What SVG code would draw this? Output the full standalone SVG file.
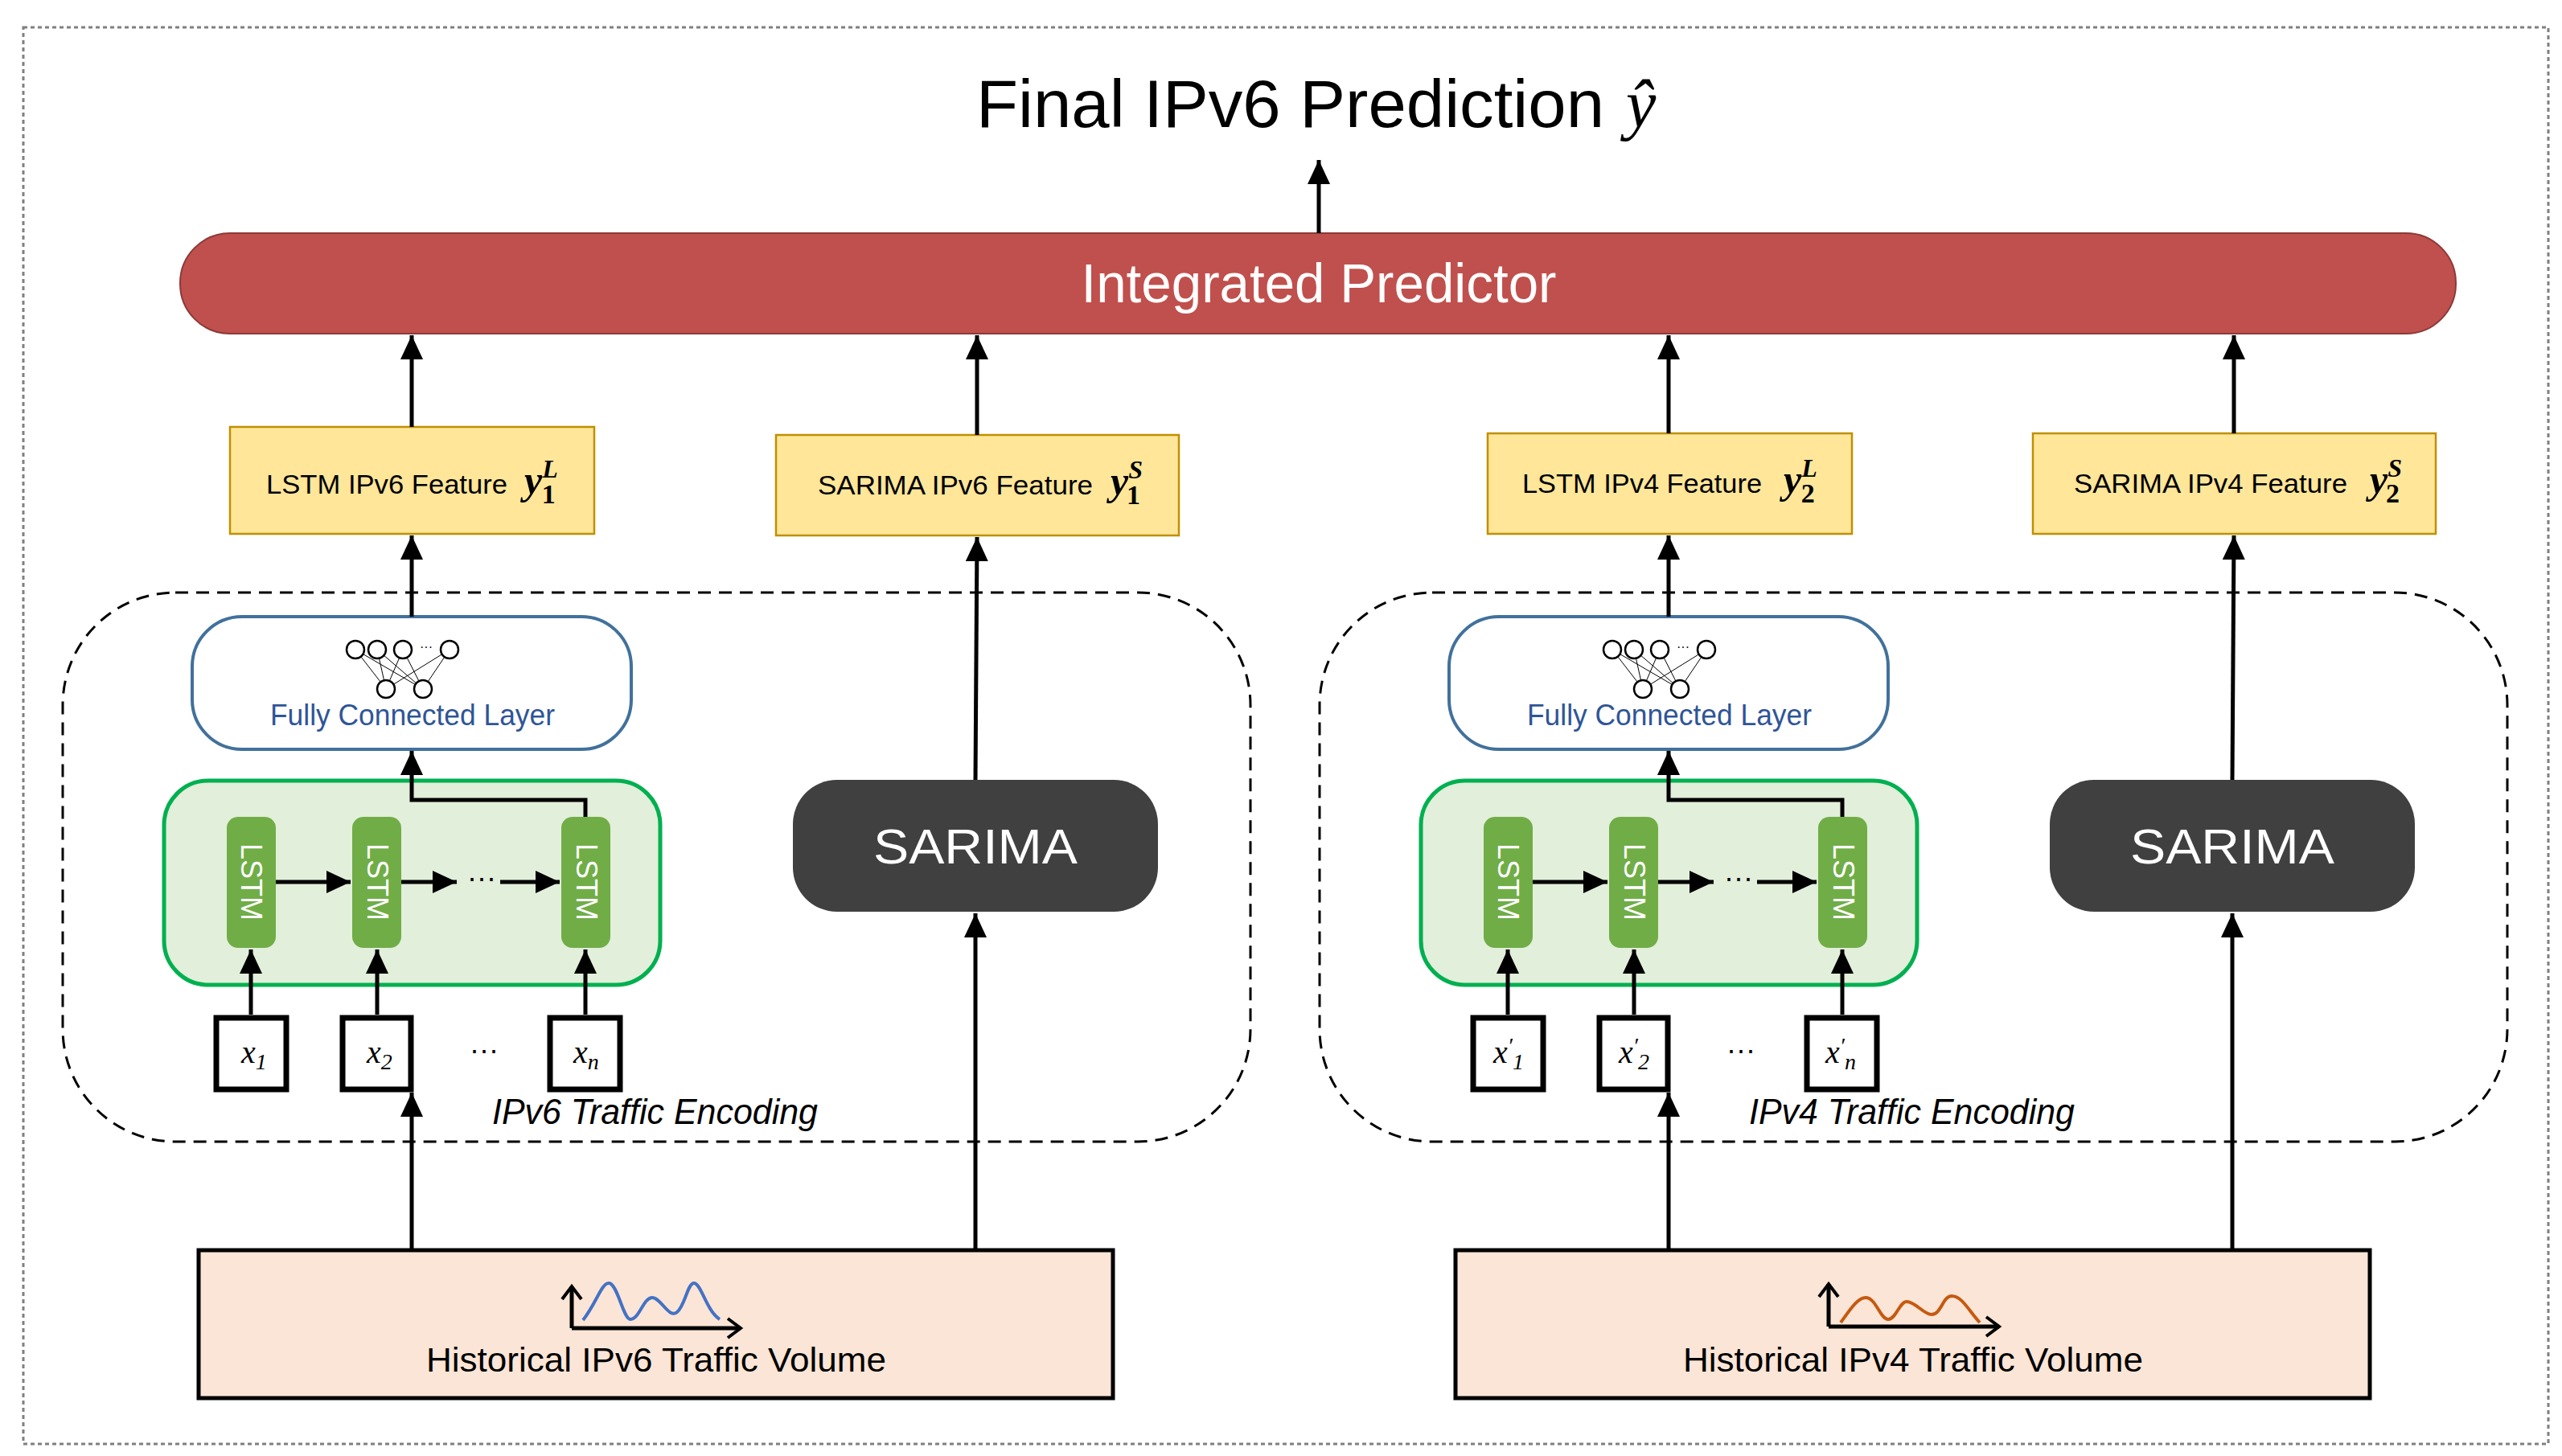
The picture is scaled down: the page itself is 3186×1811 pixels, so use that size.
<svg xmlns="http://www.w3.org/2000/svg" width="3186" height="1811" viewBox="0 0 3186 1811">
<style>
.sans{font-family:"Liberation Sans",Arial,sans-serif}
.serif{font-family:"Liberation Serif","Times New Roman",serif}
.conn{fill:none;stroke:#000;stroke-width:5}
.feat{fill:#FFE699;stroke:#BF9000;stroke-width:2.5}
.enc{fill:none;stroke:#000;stroke-width:3;stroke-dasharray:16 10}
.fc{fill:#fff;stroke:#41719C;stroke-width:4}
.grn{fill:#E2EFDA;stroke:#00B050;stroke-width:5}
.cell{fill:#70AD47}
.xbox{fill:#fff;stroke:#000;stroke-width:7}
.sar{fill:#404040}
.hist{fill:#FBE5D6;stroke:#000;stroke-width:5}
.nn circle{fill:#fff;stroke:#000;stroke-width:2.5}
.nn line{stroke:#000;stroke-width:1}
.celltxt{fill:#fff;font-size:36px}
.ftxt{font-size:34px;fill:#000}
.fy{font-size:50px;font-style:italic;font-weight:bold}
.xl{font-size:40px;font-style:italic}
</style>
<defs>
<marker id="ah" markerUnits="userSpaceOnUse" markerWidth="32" markerHeight="30" refX="30" refY="14" orient="auto">
<path d="M0,0 L30,14 L0,28 z" fill="#000"/>
</marker>
<marker id="oa" markerUnits="userSpaceOnUse" markerWidth="24" markerHeight="30" refX="18" refY="14" orient="auto">
<path d="M2,2 L18,14 L2,26" fill="none" stroke="#000" stroke-width="4"/>
</marker>
</defs>
<rect width="3186" height="1811" fill="#fff"/>
<rect x="29" y="34" width="3140" height="1762" fill="none" stroke="#808080" stroke-width="3" stroke-dasharray="5 4"/>

<g id="title">
<text class="sans" x="1214" y="158" font-size="84" textLength="781" lengthAdjust="spacingAndGlyphs">Final IPv6 Prediction</text>
<text class="serif" x="2022" y="158" font-size="84" font-style="italic">ŷ</text>
</g>

<g id="predictor">
<rect x="224" y="290" width="2830" height="125" rx="62" fill="#C0504D" stroke="#8B3A38" stroke-width="2"/>
<text class="sans" x="1640" y="376" font-size="68" fill="#fff" text-anchor="middle" textLength="591" lengthAdjust="spacingAndGlyphs">Integrated Predictor</text>
</g>

<g id="feat-lstm-v6">
<rect class="feat" x="286" y="531" width="453" height="133"/>
<text class="sans ftxt" x="331" y="614" textLength="300" lengthAdjust="spacingAndGlyphs">LSTM IPv6 Feature</text>
<text class="serif fy" x="652" y="614">y<tspan font-size="32" dy="-20">L</tspan><tspan font-size="34" dx="-20" dy="32" font-style="normal">1</tspan></text>
</g>
<g id="feat-sarima-v6">
<rect class="feat" x="965" y="541" width="501" height="125"/>
<text class="sans ftxt" x="1017" y="615" textLength="342" lengthAdjust="spacingAndGlyphs">SARIMA IPv6 Feature</text>
<text class="serif fy" x="1381" y="615">y<tspan font-size="32" dy="-20">S</tspan><tspan font-size="34" dx="-20" dy="32" font-style="normal">1</tspan></text>
</g>
<g id="feat-lstm-v4">
<rect class="feat" x="1850" y="539" width="453" height="125"/>
<text class="sans ftxt" x="1893" y="613" textLength="298" lengthAdjust="spacingAndGlyphs">LSTM IPv4 Feature</text>
<text class="serif fy" x="2218" y="613">y<tspan font-size="32" dy="-20">L</tspan><tspan font-size="34" dx="-20" dy="32" font-style="normal">2</tspan></text>
</g>
<g id="feat-sarima-v4">
<rect class="feat" x="2528" y="539" width="501" height="125"/>
<text class="sans ftxt" x="2579" y="613" textLength="340" lengthAdjust="spacingAndGlyphs">SARIMA IPv4 Feature</text>
<text class="serif fy" x="2947" y="613">y<tspan font-size="32" dy="-20">S</tspan><tspan font-size="34" dx="-20" dy="32" font-style="normal">2</tspan></text>
</g>

<g id="enc-v6">
<rect class="enc" x="78" y="737" width="1477" height="683" rx="140"/>
<text class="sans" x="612" y="1398" font-size="44" font-style="italic" textLength="405" lengthAdjust="spacingAndGlyphs">IPv6 Traffic Encoding</text>
</g>
<g id="fc-v6">
<rect class="fc" x="239" y="767" width="546" height="165" rx="62"/>
<g class="nn">
<line x1="442" y1="808" x2="480" y2="857"/><line x1="442" y1="808" x2="526" y2="857"/>
<line x1="469" y1="808" x2="480" y2="857"/><line x1="469" y1="808" x2="526" y2="857"/>
<line x1="501" y1="808" x2="480" y2="857"/><line x1="501" y1="808" x2="526" y2="857"/>
<line x1="559" y1="808" x2="480" y2="857"/><line x1="559" y1="808" x2="526" y2="857"/>
<circle cx="442" cy="808" r="11"/><circle cx="469" cy="808" r="11"/><circle cx="501" cy="808" r="11"/><circle cx="559" cy="808" r="11"/>
<circle cx="480" cy="857" r="11"/><circle cx="526" cy="857" r="11"/>
<text class="sans" x="530" y="810" font-size="16" text-anchor="middle">···</text>
</g>
<text class="sans" x="513" y="902" font-size="36" fill="#2F5597" text-anchor="middle" textLength="354" lengthAdjust="spacingAndGlyphs">Fully Connected Layer</text>
</g>
<g id="lstm-v6">
<rect class="grn" x="204" y="971" width="617" height="254" rx="55"/>
<rect class="cell" x="282" y="1016" width="61" height="163" rx="14"/>
<rect class="cell" x="438" y="1016" width="61" height="163" rx="14"/>
<rect class="cell" x="698" y="1016" width="61" height="163" rx="14"/>
<text class="sans celltxt" transform="translate(312,1097) rotate(90)" text-anchor="middle" dy="12">LSTM</text>
<text class="sans celltxt" transform="translate(469,1097) rotate(90)" text-anchor="middle" dy="12">LSTM</text>
<text class="sans celltxt" transform="translate(729,1097) rotate(90)" text-anchor="middle" dy="12">LSTM</text>
<text class="sans" x="599" y="1104" font-size="36" text-anchor="middle">···</text>
</g>
<g id="x-v6">
<rect class="xbox" x="269" y="1266" width="87" height="89"/>
<rect class="xbox" x="426" y="1266" width="85" height="89"/>
<rect class="xbox" x="684" y="1266" width="87" height="89"/>
<text class="serif xl" x="300" y="1322">x<tspan font-size="28" dy="8">1</tspan></text>
<text class="serif xl" x="456" y="1322">x<tspan font-size="28" dy="8">2</tspan></text>
<text class="serif xl" x="713" y="1322">x<tspan font-size="28" dy="8">n</tspan></text>
<text class="sans" x="602" y="1318" font-size="36" text-anchor="middle">···</text>
</g>
<g id="sarima-v6">
<rect class="sar" x="986" y="970" width="454" height="164" rx="55"/>
<text class="sans" x="1213" y="1074" font-size="62" fill="#fff" text-anchor="middle" textLength="254" lengthAdjust="spacingAndGlyphs">SARIMA</text>
</g>
<g id="hist-v6">
<rect class="hist" x="247" y="1555" width="1137" height="184"/>
<path d="M711,1652 V1600" class="conn" stroke-width="4" marker-end="url(#oa)"/>
<path d="M711,1652 H921" class="conn" stroke-width="4" marker-end="url(#oa)"/>
<path d="M725,1642 C742,1620 748,1596 757,1596 C768,1596 775,1641 784,1641 C795,1641 800,1614 811,1614 C822,1614 832,1641 842,1632 C852,1624 855,1596 863,1596 C872,1596 878,1630 895,1641" fill="none" stroke="#4472C4" stroke-width="4"/>
<text class="sans" x="816" y="1706" font-size="42" text-anchor="middle" textLength="572" lengthAdjust="spacingAndGlyphs">Historical IPv6 Traffic Volume</text>
</g>

<g id="enc-v4" transform="translate(1563,0)">
<rect class="enc" x="78" y="737" width="1477" height="683" rx="140"/>
<text class="sans" x="612" y="1398" font-size="44" font-style="italic" textLength="405" lengthAdjust="spacingAndGlyphs">IPv4 Traffic Encoding</text>
</g>
<g id="fc-v4" transform="translate(1563,0)">
<rect class="fc" x="239" y="767" width="546" height="165" rx="62"/>
<g class="nn">
<line x1="442" y1="808" x2="480" y2="857"/><line x1="442" y1="808" x2="526" y2="857"/>
<line x1="469" y1="808" x2="480" y2="857"/><line x1="469" y1="808" x2="526" y2="857"/>
<line x1="501" y1="808" x2="480" y2="857"/><line x1="501" y1="808" x2="526" y2="857"/>
<line x1="559" y1="808" x2="480" y2="857"/><line x1="559" y1="808" x2="526" y2="857"/>
<circle cx="442" cy="808" r="11"/><circle cx="469" cy="808" r="11"/><circle cx="501" cy="808" r="11"/><circle cx="559" cy="808" r="11"/>
<circle cx="480" cy="857" r="11"/><circle cx="526" cy="857" r="11"/>
<text class="sans" x="530" y="810" font-size="16" text-anchor="middle">···</text>
</g>
<text class="sans" x="513" y="902" font-size="36" fill="#2F5597" text-anchor="middle" textLength="354" lengthAdjust="spacingAndGlyphs">Fully Connected Layer</text>
</g>
<g id="lstm-v4" transform="translate(1563,0)">
<rect class="grn" x="204" y="971" width="617" height="254" rx="55"/>
<rect class="cell" x="282" y="1016" width="61" height="163" rx="14"/>
<rect class="cell" x="438" y="1016" width="61" height="163" rx="14"/>
<rect class="cell" x="698" y="1016" width="61" height="163" rx="14"/>
<text class="sans celltxt" transform="translate(312,1097) rotate(90)" text-anchor="middle" dy="12">LSTM</text>
<text class="sans celltxt" transform="translate(469,1097) rotate(90)" text-anchor="middle" dy="12">LSTM</text>
<text class="sans celltxt" transform="translate(729,1097) rotate(90)" text-anchor="middle" dy="12">LSTM</text>
<text class="sans" x="599" y="1104" font-size="36" text-anchor="middle">···</text>
</g>
<g id="x-v4" transform="translate(1563,0)">
<rect class="xbox" x="269" y="1266" width="87" height="89"/>
<rect class="xbox" x="426" y="1266" width="85" height="89"/>
<rect class="xbox" x="684" y="1266" width="87" height="89"/>
<text class="serif xl" x="294" y="1322">x<tspan font-size="28" dy="-12">′</tspan><tspan font-size="28" dy="20">1</tspan></text>
<text class="serif xl" x="450" y="1322">x<tspan font-size="28" dy="-12">′</tspan><tspan font-size="28" dy="20">2</tspan></text>
<text class="serif xl" x="707" y="1322">x<tspan font-size="28" dy="-12">′</tspan><tspan font-size="28" dy="20">n</tspan></text>
<text class="sans" x="602" y="1318" font-size="36" text-anchor="middle">···</text>
</g>
<g id="sarima-v4" transform="translate(1563,0)">
<rect class="sar" x="986" y="970" width="454" height="164" rx="55"/>
<text class="sans" x="1213" y="1074" font-size="62" fill="#fff" text-anchor="middle" textLength="254" lengthAdjust="spacingAndGlyphs">SARIMA</text>
</g>
<g id="hist-v4">
<rect class="hist" x="1810" y="1555" width="1137" height="184"/>
<path d="M2274,1650 V1597" class="conn" stroke-width="4" marker-end="url(#oa)"/>
<path d="M2274,1650 H2486" class="conn" stroke-width="4" marker-end="url(#oa)"/>
<path d="M2289,1645 C2300,1630 2310,1614 2320,1614 C2333,1614 2338,1641 2348,1641 C2358,1641 2362,1619 2371,1619 C2382,1619 2392,1635 2402,1635 C2414,1635 2416,1612 2427,1612 C2440,1612 2448,1630 2462,1645" fill="none" stroke="#C55A11" stroke-width="4"/>
<text class="sans" x="2379" y="1706" font-size="42" text-anchor="middle" textLength="572" lengthAdjust="spacingAndGlyphs">Historical IPv4 Traffic Volume</text>
</g>

<g id="connectors">
<path class="conn" d="M1640,290 V199" marker-end="url(#ah)"/>
<path class="conn" d="M512,531 V417" marker-end="url(#ah)"/>
<path class="conn" d="M1215,541 V417" marker-end="url(#ah)"/>
<path class="conn" d="M2075,539 V417" marker-end="url(#ah)"/>
<path class="conn" d="M2778,539 V417" marker-end="url(#ah)"/>
<path class="conn" d="M512,767 V666" marker-end="url(#ah)"/>
<path class="conn" d="M1213,970 L1215,668" marker-end="url(#ah)"/>
<path class="conn" d="M2075,767 V666" marker-end="url(#ah)"/>
<path class="conn" d="M2776,970 L2778,666" marker-end="url(#ah)"/>
<path class="conn" d="M728,1016 V995 H512 V934" marker-end="url(#ah)"/>
<path class="conn" d="M2291,1016 V995 H2075 V934" marker-end="url(#ah)"/>
<path class="conn" d="M343,1097 H436" marker-end="url(#ah)"/>
<path class="conn" d="M499,1097 H568" marker-end="url(#ah)"/>
<path class="conn" d="M622,1097 H696" marker-end="url(#ah)"/>
<path class="conn" d="M1906,1097 H1999" marker-end="url(#ah)"/>
<path class="conn" d="M2062,1097 H2131" marker-end="url(#ah)"/>
<path class="conn" d="M2185,1097 H2259" marker-end="url(#ah)"/>
<path class="conn" d="M312,1262 V1181" marker-end="url(#ah)"/>
<path class="conn" d="M469,1262 V1181" marker-end="url(#ah)"/>
<path class="conn" d="M728,1262 V1181" marker-end="url(#ah)"/>
<path class="conn" d="M1875,1262 V1181" marker-end="url(#ah)"/>
<path class="conn" d="M2032,1262 V1181" marker-end="url(#ah)"/>
<path class="conn" d="M2291,1262 V1181" marker-end="url(#ah)"/>
<path class="conn" d="M512,1555 V1359" marker-end="url(#ah)"/>
<path class="conn" d="M1213,1555 V1136" marker-end="url(#ah)"/>
<path class="conn" d="M2075,1555 V1359" marker-end="url(#ah)"/>
<path class="conn" d="M2776,1555 V1136" marker-end="url(#ah)"/>
</g>
</svg>
